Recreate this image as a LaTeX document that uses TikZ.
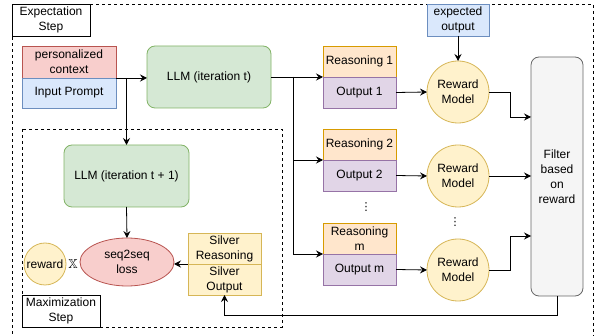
\documentclass[tikz,border=0pt]{standalone}
\usepackage{amssymb}
\usepackage{fontspec}
\setmainfont{Liberation Sans}
\newfontfamily\symfont{DejaVu Sans}
\usetikzlibrary{positioning,shapes.geometric,arrows.meta}
\definecolor{redfill}{HTML}{F8CECC}
\definecolor{redline}{HTML}{B85450}
\definecolor{bluefill}{HTML}{DAE8FC}
\definecolor{blueline}{HTML}{6C8EBF}
\definecolor{greenfill}{HTML}{D5E8D4}
\definecolor{greenline}{HTML}{82B366}
\definecolor{orangefill}{HTML}{FFE6CC}
\definecolor{orangeline}{HTML}{D79B00}
\definecolor{purplefill}{HTML}{E1D5E7}
\definecolor{purpleline}{HTML}{9673A6}
\definecolor{yellowfill}{HTML}{FFF2CC}
\definecolor{yellowline}{HTML}{D6B656}
\definecolor{greyfill}{HTML}{F5F5F5}
\definecolor{greyline}{HTML}{666666}
\tikzstyle{box} = [rectangle, line width=0.8pt, align=center, inner sep=1pt, outer sep=0pt, font=\fontsize{12}{15}\selectfont]
\tikzstyle{stepbox} = [box, draw=black, fill=white, minimum width=78pt, minimum height=32pt]
\tikzstyle{redbox} = [box, draw=redline, fill=redfill, minimum width=94pt, minimum height=32pt]
\tikzstyle{bluebox} = [box, draw=blueline, fill=bluefill]
\tikzstyle{llmbox} = [box, draw=greenline, fill=greenfill, rounded corners=8pt, minimum width=124pt, minimum height=62pt]
\tikzstyle{reasonbox} = [box, draw=orangeline, fill=orangefill, minimum width=73pt, minimum height=31pt]
\tikzstyle{outbox} = [box, draw=purpleline, fill=purplefill, minimum width=73pt, minimum height=31pt]
\tikzstyle{silverbox} = [box, draw=yellowline, fill=yellowfill, minimum width=73pt, minimum height=31pt]
\tikzstyle{rewardmodel} = [box, circle, draw=yellowline, fill=yellowfill, minimum size=62pt, inner sep=0pt]
\tikzstyle{vdotsnode} = [inner sep=0pt, font=\symfont\fontsize{11}{11}\selectfont]
\tikzstyle{arr} = [-{Stealth[length=7pt,width=7pt,inset=2.5pt]}, line width=0.8pt]
\tikzstyle{dashbox} = [line width=0.8pt, dash pattern=on 3pt off 3pt]

\begin{document}
\begin{tikzpicture}[x=1pt,y=-1pt]
	\useasboundingbox (0,0) rectangle (594,336);
	\draw[dashbox] (12,340) -- (12,4) -- (593,4) -- (593,340);
	\draw[dashbox] (22,129) rectangle (282,327);
	\node[stepbox] (expect) at (51,20) {Expectation\\Step};
	\node[stepbox] (maxstep) at (61,311) {Maximization\\Step};

	\node[redbox] (context) at (69,62) {personalized\\context};
	\node[bluebox, minimum width=94pt, minimum height=30pt, below=0pt of context] (prompt) {Input Prompt};
	\node[llmbox] (llmt) at (209,77) {LLM (iteration t)};
	\node[llmbox, minimum width=125pt] (llmnext) at (126.5,176) {LLM (iteration t + 1)};

	\node[box, ellipse, draw=redline, fill=redfill, minimum width=94pt, minimum height=48pt] (loss) at (127,262) {seq2seq\\loss};
	\node[box, circle, draw=yellowline, fill=yellowfill, minimum size=42pt, inner sep=0pt] (reward) at (45,264) {reward};
	\node[inner sep=0pt, font=\fontsize{13}{13}\selectfont] (times) at (73,264) {$\mathbb{X}$};
	\node[silverbox] (silverR) at (224.5,248.5) {Silver\\Reasoning};
	\node[silverbox, below=0pt of silverR] (silverO) {Silver\\Output};

	\node[reasonbox] (reason1) at (359.5,61.5) {Reasoning 1};
	\node[outbox, below=0pt of reason1] (out1) {Output 1};
	\node[reasonbox] (reason2) at (359.5,144.5) {Reasoning 2};
	\node[outbox, below=0pt of reason2] (out2) {Output 2};
	\node[reasonbox] (reasonm) at (359.5,238.5) {Reasoning\\m};
	\node[outbox, below=0pt of reasonm] (outm) {Output m};
	\node[vdotsnode] (dots1) at (366,207) {⋮};

	\node[bluebox, minimum width=62pt, minimum height=32pt] (expected) at (458,20) {expected\\output};
	\node[rewardmodel] (rm1) at (458,92) {Reward\\Model};
	\node[rewardmodel] (rm2) at (458,176) {Reward\\Model};
	\node[rewardmodel] (rm3) at (458,270) {Reward\\Model};
	\node[vdotsnode] (dots2) at (455,222) {⋮};
	\node[box, draw=greyline, fill=greyfill, rounded corners=8pt, minimum width=52pt, minimum height=239pt] (filter) at (557,176.5) {Filter\\based\\on\\reward};

	\coordinate (trunk) at (293,77);
	\draw[arr] (context.south east) -- (context.south east -| llmt.west);
	\draw[arr] (llmnext.north |- context.south east) -- (llmnext.north);
	\draw[arr] (llmt.east) -- (out1.north west);
	\draw[arr] (trunk) |- (out2.north west);
	\draw[arr] (trunk) |- (outm.north west);
	\draw[arr] (out1.east) -- (rm1.west);
	\draw[arr] (out2.east) -- (rm2.west);
	\draw[arr] (outm.east) -- (rm3.west);
	\draw[arr] (expected.south) -- (rm1.north);
	\draw[arr] (rm1.east) -- ++(21,0) |- ([yshift=-25pt]rm1.east -| filter.west);
	\draw[arr] (rm2.east) -- (rm2.east -| filter.west);
	\draw[arr] (rm3.east) -- ++(21,0) |- ([yshift=34pt]rm3.east -| filter.west);
	\draw[arr] (filter.south) -- ++(0,19) -| (silverO.south);
	\draw[arr] (silverO.north west) -- (silverO.north west -| loss.east);
	\draw[arr] (llmnext.south) -- (loss.north);
\end{tikzpicture}
\end{document}
